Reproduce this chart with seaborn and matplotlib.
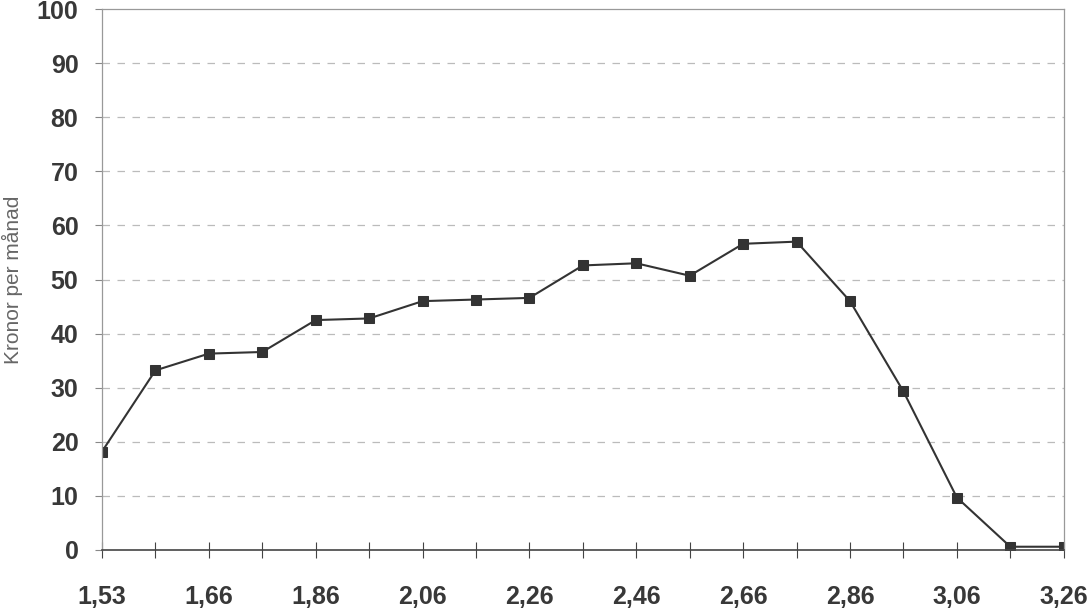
import numpy as np
import pandas as pd
import matplotlib
matplotlib.use("Agg")
import matplotlib.pyplot as plt
import seaborn as sns

# ------------------------------------------------------------
# Data
# ------------------------------------------------------------

x_labels = ["1,53", "", "1,66", "", "1,86", "", "2,06", "", "2,26", "",
            "2,46", "", "2,66", "", "2,86", "", "3,06", "", "3,26"]
kronor = [18.2, 33.2, 36.3, 36.6, 42.5, 42.8, 46.0, 46.3, 46.6, 52.6,
          53.0, 50.7, 56.6, 57.0, 46.0, 29.3, 9.7, 0.6, 0.6]
y_ticks = [0, 10, 20, 30, 40, 50, 60, 70, 80, 90, 100]

df = pd.DataFrame({"pos": np.arange(len(kronor)), "kronor": kronor})

# ------------------------------------------------------------
# Plot
# ------------------------------------------------------------

sns.set_style("white")
plt.rcParams["font.family"] = ["Liberation Sans", "DejaVu Sans"]

fig = plt.figure(figsize=(10.91, 6.10), dpi=100)
ax = fig.add_axes([0.0935, 0.0984, 0.8815, 0.8868])

sns.lineplot(data=df, x="pos", y="kronor", ax=ax, color="#333333",
             linewidth=1.5, marker="s", markersize=7,
             markeredgecolor="#333333", markerfacecolor="#333333")

ax.set_xlim(0, len(kronor) - 1)
ax.set_ylim(0, 100)
ax.set_yticks(y_ticks)
ax.set_yticklabels([str(t) for t in y_ticks], fontsize=18, fontweight="bold",
                   color="#383838")
ax.set_xticks(df["pos"])
ax.set_xticklabels(x_labels, fontsize=18, fontweight="bold", color="#383838")

for y in y_ticks[1:-1]:
    ax.axhline(y, color="#bbbbbb", linewidth=0.9, linestyle=(0, (6, 6)),
               zorder=0)

ax.tick_params(axis="x", direction="inout", length=12, width=0.8,
               color="#444444", pad=19)
ax.tick_params(axis="y", direction="out", length=5, width=0.8,
               color="#888888", pad=12)
ax.tick_params(left=True, bottom=True)

for side in ["top", "right", "left"]:
    ax.spines[side].set_color("#999999")
    ax.spines[side].set_linewidth(0.9)
ax.spines["bottom"].set_color("#444444")
ax.spines["bottom"].set_linewidth(1.2)

ax.set_xlabel("")
ax.set_ylabel("Kronor per månad", fontsize=15, color="#666666")
ax.yaxis.set_label_coords(-0.082, 0.5)

fig.savefig("out.png", dpi=100)
